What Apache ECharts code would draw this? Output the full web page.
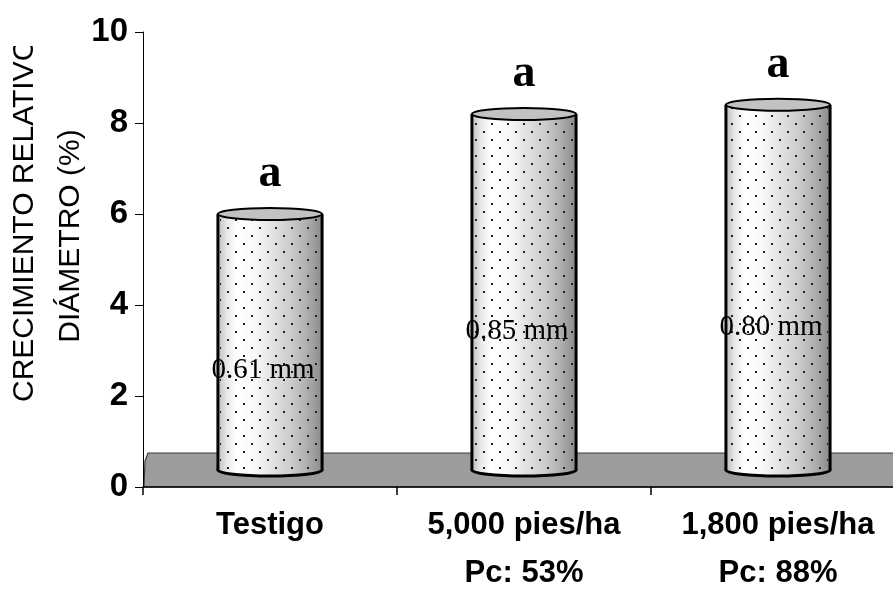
<!DOCTYPE html>
<html>
<head>
<meta charset="utf-8">
<script src="https://cdn.jsdelivr.net/npm/echarts@6/dist/echarts.min.js"></script>
<style>
  html, body { margin: 0; padding: 0; background: #fff; }
  #chart { width: 893px; height: 589px; }
</style>
</head>
<body>
<div id="chart"></div>
<script>
// Relative diameter growth per treatment
const categories = ['Testigo', '5,000 pies/ha\nPc: 53%', '1,800 pies/ha\nPc: 88%'];
const growthPct = [6.0, 8.2, 8.4];
const growthMm = ['0.61 mm', '0.85 mm', '0.80 mm'];
const groupLetters = ['a', 'a', 'a'];
const yTicks = [0, 2, 4, 6, 8, 10];

const FLOOR_DEPTH = 34;   // height of the 3D floor band, px
const TOP_RY = 6;         // vertical radius of the cylinder caps, px

// Small dot pattern laid over the cylinders
function makeDotPattern() {
  const c = document.createElement('canvas');
  c.width = 16; c.height = 16;
  const g = c.getContext('2d');
  g.fillStyle = '#222222';
  g.fillRect(3, 3, 2, 2);
  g.fillRect(11, 11, 2, 2);
  return c;
}
const dotPattern = { image: makeDotPattern(), repeat: 'repeat' };

function cylinderGradient() {
  return new echarts.graphic.LinearGradient(0, 0, 1, 0, [
    { offset: 0.00, color: '#bdbdbd' },
    { offset: 0.08, color: '#e6e6e6' },
    { offset: 0.18, color: '#ffffff' },
    { offset: 0.36, color: '#f8f8f8' },
    { offset: 0.52, color: '#e2e2e2' },
    { offset: 0.70, color: '#cccccc' },
    { offset: 0.86, color: '#adadad' },
    { offset: 1.00, color: '#8a8a8a' }
  ]);
}

function renderFloor(params, api) {
  const cs = params.coordSys;
  const y0 = api.coord([0, 0])[1];
  const x0 = cs.x;
  const x1 = cs.x + cs.width;
  return {
    type: 'polygon',
    shape: {
      points: [[x0 + 1, y0], [x0 + 2, y0 - FLOOR_DEPTH + 8], [x0 + 5, y0 - FLOOR_DEPTH],
               [x1, y0 - FLOOR_DEPTH], [x1, y0]]
    },
    style: { fill: '#9c9c9c', stroke: '#3c3c3c', lineWidth: 1.2 }
  };
}

function renderCylinder(params, api) {
  const i = params.dataIndex;
  const v = api.value(1);
  const top = api.coord([api.value(0), v]);
  const zero = api.coord([api.value(0), 0]);
  const w = api.size([1, 0])[0] * 0.41;
  const cx = top[0];
  const left = cx - w / 2;
  const topY = top[1];
  const baseY = zero[1] - FLOOR_DEPTH / 2;
  const labelY = baseY - 0.39 * (baseY - topY);

  return {
    type: 'group',
    children: [
      { type: 'ellipse', shape: { cx: cx, cy: baseY, rx: w / 2, ry: TOP_RY },
        style: { fill: cylinderGradient(), stroke: '#000', lineWidth: 3 } },
      { type: 'rect', shape: { x: left, y: topY, width: w, height: baseY - topY },
        style: { fill: cylinderGradient() } },
      { type: 'rect', shape: { x: left + 2, y: topY, width: w - 4, height: baseY - topY + TOP_RY - 2 },
        style: { fill: dotPattern } },
      { type: 'line', shape: { x1: left, y1: topY, x2: left, y2: baseY },
        style: { stroke: '#000', lineWidth: 3 } },
      { type: 'line', shape: { x1: left + w, y1: topY, x2: left + w, y2: baseY },
        style: { stroke: '#000', lineWidth: 3 } },
      { type: 'ellipse', shape: { cx: cx, cy: topY, rx: w / 2, ry: TOP_RY },
        style: { fill: '#c2c2c2', stroke: '#000', lineWidth: 2 } },
      { type: 'text', x: cx - 7, y: labelY,
        style: { text: growthMm[i], fill: '#000', align: 'center', verticalAlign: 'middle',
                 font: '29px "Liberation Serif", "Times New Roman", serif' } },
      { type: 'text', x: cx, y: topY - 40,
        style: { text: groupLetters[i], fill: '#000', align: 'center', verticalAlign: 'middle',
                 font: 'bold 46px "Liberation Serif", "Times New Roman", serif' } }
    ]
  };
}

const chart = echarts.init(document.getElementById('chart'), null, { renderer: 'canvas' });

chart.setOption({
  animation: false,
  backgroundColor: '#ffffff',
  grid: { left: 143, top: 32, width: 762, height: 455, outerBoundsMode: 'none', containLabel: false },
  xAxis: {
    type: 'category',
    data: categories,
    z: 5,
    axisLine: { lineStyle: { color: '#000', width: 1.5 } },
    axisTick: { show: true, interval: 0, length: 8, lineStyle: { color: '#000', width: 1.5 } },
    axisLabel: {
      interval: 0, hideOverlap: false,
      color: '#000', fontFamily: '"Liberation Sans", Arial, sans-serif',
      fontWeight: 'bold', fontSize: 31, lineHeight: 48, margin: 14
    }
  },
  yAxis: {
    type: 'value',
    min: yTicks[0], max: yTicks[yTicks.length - 1], interval: 2,
    z: 5,
    axisLine: { show: true, lineStyle: { color: '#000', width: 1 } },
    axisTick: { show: true, length: 8, lineStyle: { color: '#000', width: 1 } },
    splitLine: { show: false },
    axisLabel: {
      color: '#000', fontFamily: '"Liberation Sans", Arial, sans-serif',
      fontWeight: 'bold', fontSize: 33, margin: 15
    }
  },
  graphic: [
    { type: 'text', x: 25, y: 220, rotation: Math.PI / 2, z: 10,
      style: { text: 'CRECIMIENTO RELATIVO', fill: '#000', align: 'center', verticalAlign: 'middle',
               font: '30px "Liberation Sans", Arial, sans-serif' } },
    { type: 'text', x: 71, y: 236, rotation: Math.PI / 2, z: 10,
      style: { text: 'DIÁMETRO (%)', fill: '#000', align: 'center', verticalAlign: 'middle',
               font: '30px "Liberation Sans", Arial, sans-serif' } },
    { type: 'rect', z: 11, shape: { x: 0, y: 0, width: 50, height: 46 },
      style: { fill: '#ffffff' } }
  ],
  series: [
    { type: 'custom', z: 1, silent: true, data: [[0, 0]], renderItem: renderFloor },
    { type: 'custom', z: 3, silent: true,
      data: growthPct.map((v, i) => [i, v]),
      encode: { x: 0, y: 1 },
      renderItem: renderCylinder }
  ]
});
</script>
</body>
</html>
